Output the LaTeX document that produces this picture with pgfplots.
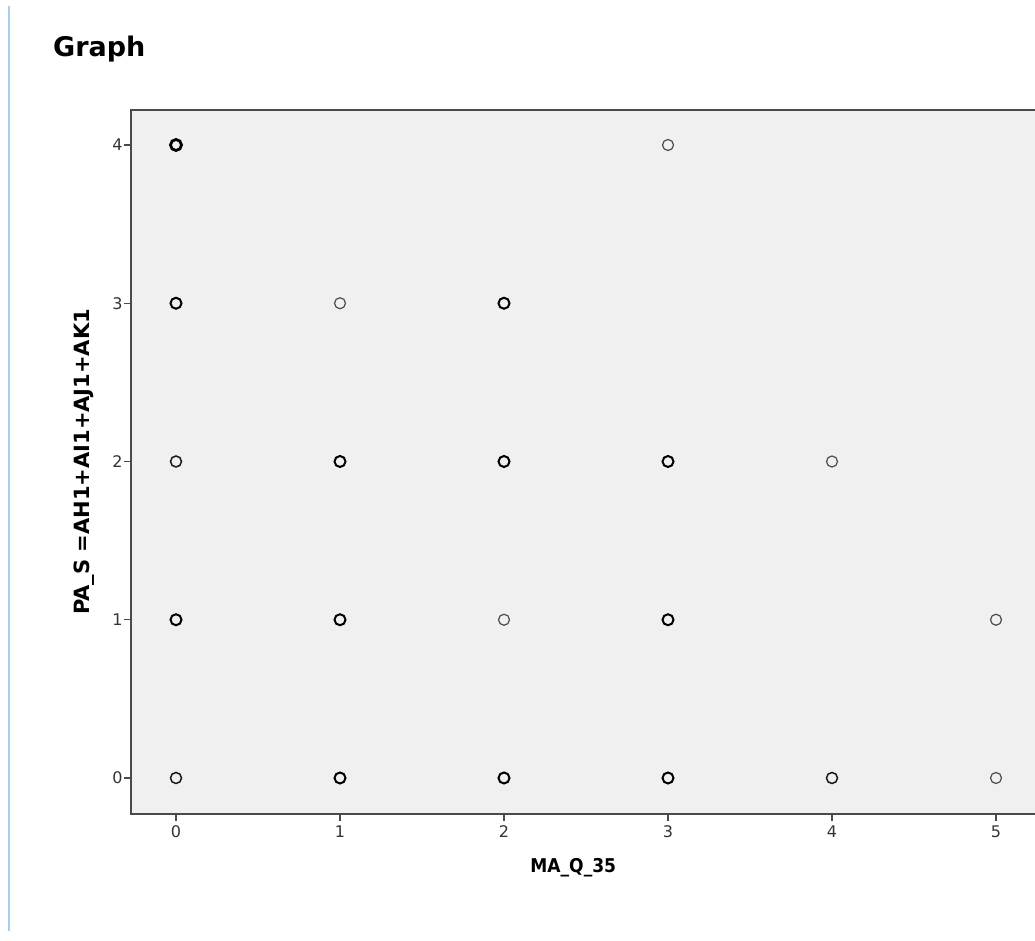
\documentclass[border=0pt]{standalone}
\usepackage{pgfplots}
\pgfplotsset{compat=1.18}
\usepackage{fontspec}
\setmainfont{DejaVu Sans}
\newfontfamily\labelfont{DejaVu Sans Condensed}
\definecolor{plotbg}{HTML}{EFF0EF}
\definecolor{frame}{HTML}{4A4A4A}
\definecolor{ticktext}{HTML}{333333}
\definecolor{sidebar}{HTML}{A8D0EC}
\begin{document}
\begin{tikzpicture}
\useasboundingbox (0,0) rectangle (1035pt,941pt);
\fill[white] (0,0) rectangle (1035pt,941pt);
\clip (0,0) rectangle (1035pt,941pt);
\draw[sidebar, line width=2pt] (9pt,935pt) -- (9pt,10pt);
\node[anchor=base west, inner sep=0pt, font=\fontsize{27}{30}\selectfont\bfseries] at (53pt,884pt) {Graph};
\begin{axis}[
  at={(176pt,163pt)}, anchor=origin,
  x=164pt, y=158.25pt,
  xmin=-0.274, xmax=5.274, ymin=-0.227, ymax=4.222,
  axis background/.style={fill=plotbg},
  axis line style={frame, line width=1.6pt},
  xtick={0,1,2,3,4,5}, ytick={0,1,2,3,4},
  tick align=outside, tick pos=left,
  major tick length=7pt,
  every tick/.style={frame, line width=1.3pt},
  tick label style={font=\fontsize{16}{18}\selectfont, text=ticktext},
  xticklabel style={yshift=-1pt},
  yticklabel style={xshift=2pt},
  /pgf/number format/assume math mode=true,
  clip=false,
  xlabel={MA\_Q\_35},
  ylabel={PA\_S =AH1+AI1+AJ1+AK1},
  xlabel style={font=\labelfont\fontsize{19}{22}\selectfont\bfseries, at={(axis description cs:0.486,-0.0767)}, anchor=center},
  ylabel style={font=\fontsize{21}{24}\selectfont\bfseries, at={(axis description cs:-0.052,0.5)}, anchor=center, rotate=0},
]
% single observations
\addplot[only marks, mark=o, mark size=5.5pt, mark options={draw=black!70, line width=1.2pt}] coordinates {
 (3,4) (1,3) (4,2) (2,1) (5,1) (5,0)
};
% few observations
\addplot[only marks, mark=o, mark size=5.5pt, mark options={draw=black!90, line width=1.5pt}] coordinates {
 (0,2) (0,0) (4,0)
};
% several observations
\addplot[only marks, mark=o, mark size=5.5pt, mark options={draw=black, line width=2pt}] coordinates {
 (0,3) (2,3) (1,2) (2,2) (3,2) (0,1) (1,1) (3,1) (1,0) (2,0) (3,0)
};
% many observations
\addplot[only marks, mark=o, mark size=5.5pt, mark options={draw=black, line width=2.8pt}] coordinates {
 (0,4)
};
\end{axis}
\end{tikzpicture}
\end{document}
